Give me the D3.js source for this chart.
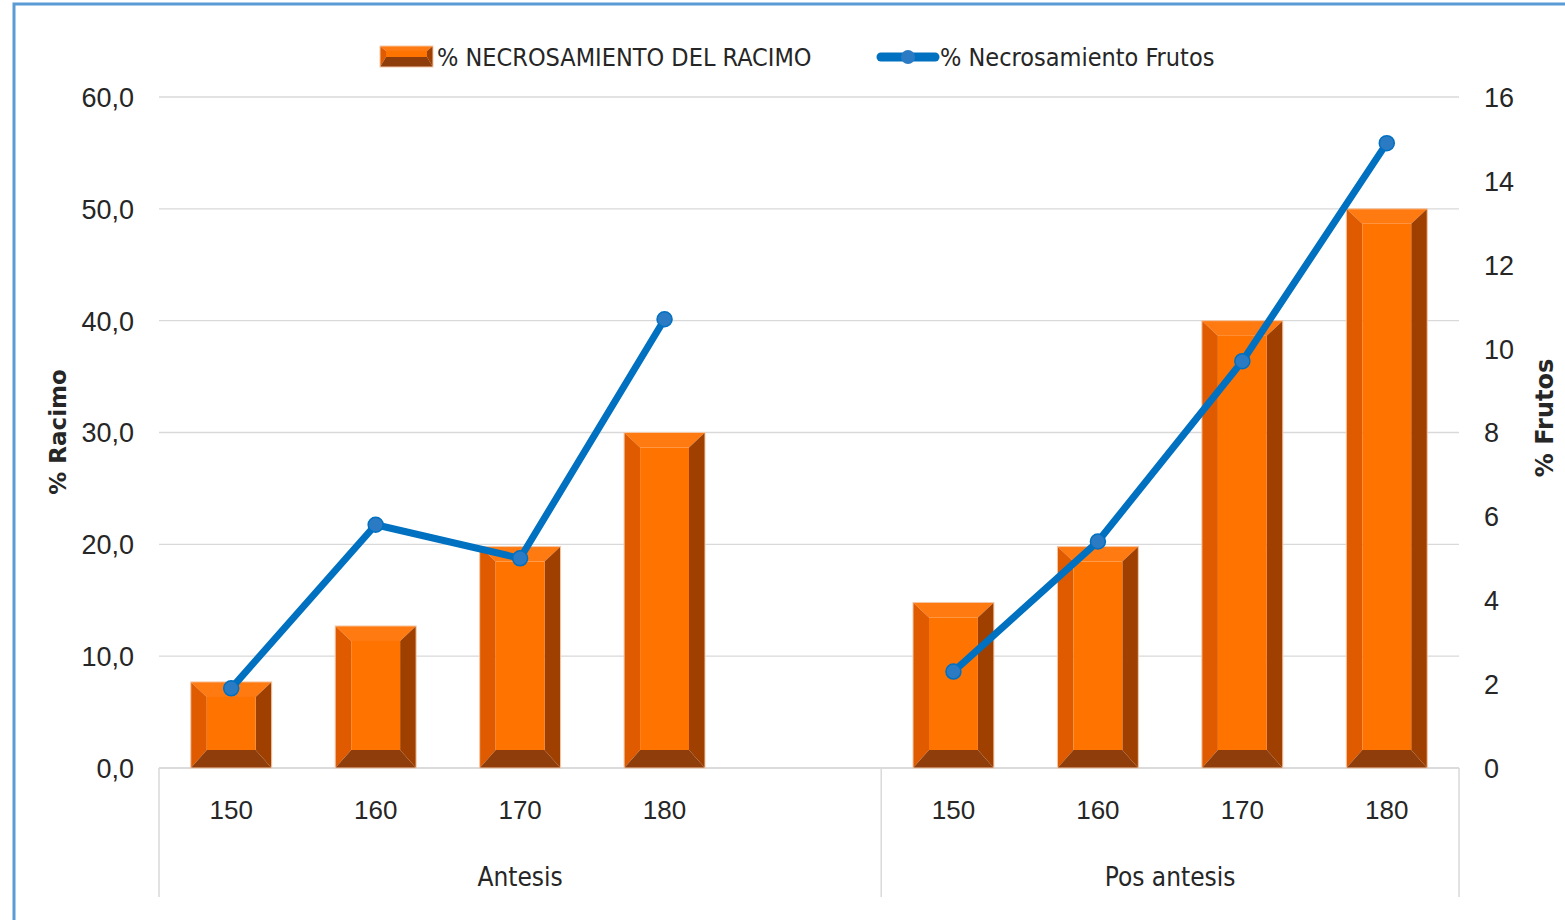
<!DOCTYPE html>
<html lang="es">
<head>
<meta charset="UTF-8">
<title>Necrosamiento</title>
<script src="https://d3js.org/d3.v7.min.js"></script>
<style>
    body { margin: 0; background: #fff; }
    svg { display: block; font-family: "Liberation Sans Narrow", "DejaVu Sans Condensed", sans-serif; }
    .tick text { fill: #262626; }
</style>
</head>
<body>
<svg id="chart" width="1565" height="920"></svg>
<script>
    // data
    const groups = ["Antesis", "Pos antesis"]
    const doses = ["150", "160", "170", "180"]
    const racimo = {
        "Antesis":     [7.7, 12.7, 19.8, 30.0],
        "Pos antesis": [14.8, 19.8, 40.0, 50.0]
    }
    const frutos = {
        "Antesis":     [1.9, 5.8, 5.0, 10.7],
        "Pos antesis": [2.3, 5.4, 9.7, 14.9]
    }
    const leftTicks = [0, 10, 20, 30, 40, 50, 60]
    const rightTicks = [0, 2, 4, 6, 8, 10, 12, 14, 16]
    const seriesNames = ["% NECROSAMIENTO DEL RACIMO", "% Necrosamiento Frutos"]

    // slots: Antesis has an empty fifth slot, as in the original sheet
    const slots = []
    groups.forEach((g, gi) => {
        doses.forEach(d => slots.push(g + "|" + d))
        if (gi === 0) slots.push(g + "|")
    })

    const svg = d3.select("#chart")
    const plot = {left: 159, right: 1459, top: 97, bottom: 768}

    const x = d3.scaleBand().domain(slots).range([plot.left, plot.right]).paddingInner(0.44).paddingOuter(0.22)
    const slotW = (plot.right - plot.left) / slots.length
    const yL = d3.scaleLinear().domain([0, 60]).range([plot.bottom, plot.top])
    const yR = d3.scaleLinear().domain([0, 16]).range([plot.bottom, plot.top])
    const fmt = v => d3.format(".1f")(v).replace(".", ",")

    // outer frame
    svg.append("rect").attr("x", 14).attr("y", 4).attr("width", 1600).attr("height", 960)
        .attr("fill", "none").attr("stroke", "#5B9BD5").attr("stroke-width", 3)

    // gridlines
    svg.append("g").selectAll("line").data(leftTicks).join("line")
        .attr("x1", plot.left).attr("x2", plot.right)
        .attr("y1", d => yL(d)).attr("y2", d => yL(d))
        .attr("stroke", "#D9D9D9").attr("stroke-width", 1.3)

    // left axis
    const axL = svg.append("g").attr("transform", `translate(${plot.left - 22},0)`)
        .call(d3.axisLeft(yL).tickValues(leftTicks).tickFormat(fmt).tickSize(0))
    axL.select(".domain").remove()
    axL.selectAll("text").attr("font-size", 27).attr("dy", "0.35em")

    // right axis
    const axR = svg.append("g").attr("transform", `translate(${plot.right + 22},0)`)
        .call(d3.axisRight(yR).tickValues(rightTicks).tickSize(0))
    axR.select(".domain").remove()
    axR.selectAll("text").attr("font-size", 27).attr("dy", "0.35em")

    // axis titles
    svg.append("text").attr("transform", "translate(66,432) rotate(-90)")
        .attr("text-anchor", "middle").attr("font-family", "DejaVu Sans, sans-serif")
        .attr("font-weight", "bold").attr("font-size", 23).attr("fill", "#262626").text("% Racimo")
    svg.append("text").attr("transform", "translate(1553,418) rotate(-90)")
        .attr("text-anchor", "middle").attr("font-family", "DejaVu Sans, sans-serif")
        .attr("font-weight", "bold").attr("font-size", 24).attr("fill", "#262626").text("% Frutos")

    // category axis: baseline, separators, labels
    svg.append("line").attr("x1", plot.left).attr("x2", plot.right)
        .attr("y1", plot.bottom).attr("y2", plot.bottom).attr("stroke", "#D9D9D9").attr("stroke-width", 1.5)
    const seps = [plot.left, plot.left + slotW * 5, plot.right]
    svg.append("g").selectAll("line").data(seps).join("line")
        .attr("x1", d => d).attr("x2", d => d).attr("y1", plot.bottom).attr("y2", 897)
        .attr("stroke", "#D9D9D9").attr("stroke-width", 1.5)

    const axB = svg.append("g").attr("transform", `translate(0,${plot.bottom + 30})`)
        .call(d3.axisBottom(x).tickFormat(d => d.split("|")[1]).tickSize(0))
    axB.select(".domain").remove()
    axB.selectAll("text").attr("font-size", 26).attr("dy", "0.71em")

    const groupSpan = [[plot.left, seps[1]], [seps[1], plot.right]]
    svg.append("g").selectAll("text").data(groups).join("text")
        .attr("x", (d, i) => (groupSpan[i][0] + groupSpan[i][1]) / 2)
        .attr("y", 886).attr("text-anchor", "middle").attr("font-size", 26).attr("fill", "#262626")
        .text(d => d)

    // bevelled bars
    const col = {face: "#FF7300", top: "#FF7A10", left: "#E05B00", right: "#A04000", bottom: "#8F3D0B"}
    function bevel(g, x0, x1, y0, y1, b, bt, bb) {
        const h = y1 - y0
        if (bt + bb > h) { bt = h * 0.45; bb = h * 0.55 }
        const poly = (pts, c) => g.append("polygon").attr("points", pts.map(p => p.join(",")).join(" ")).attr("fill", c)
        poly([[x0, y0], [x1, y0], [x1 - b, y0 + bt], [x0 + b, y0 + bt]], col.top)
        poly([[x0, y0], [x0 + b, y0 + bt], [x0 + b, y1 - bb], [x0, y1]], col.left)
        poly([[x1, y0], [x1 - b, y0 + bt], [x1 - b, y1 - bb], [x1, y1]], col.right)
        poly([[x0, y1], [x1, y1], [x1 - b, y1 - bb], [x0 + b, y1 - bb]], col.bottom)
        g.append("rect").attr("x", x0 + b).attr("y", y0 + bt).attr("width", x1 - x0 - 2 * b)
            .attr("height", Math.max(0, y1 - y0 - bt - bb)).attr("fill", col.face)
        g.append("rect").attr("x", x0).attr("y", y0).attr("width", x1 - x0).attr("height", h)
            .attr("fill", "none").attr("stroke", "#F4C7A6").attr("stroke-width", 1)
    }
    const barG = svg.append("g")
    groups.forEach(g => {
        racimo[g].forEach((v, i) => {
            const k = g + "|" + doses[i]
            bevel(barG.append("g"), x(k), x(k) + x.bandwidth(), yL(v), yL(0), 16, 15, 18)
        })
    })

    // line series, broken between the groups
    const lineCol = "#0070C0"
    const line = d3.line().x(d => x(d.k) + x.bandwidth() / 2).y(d => yR(d.v))
    groups.forEach(g => {
        const pts = frutos[g].map((v, i) => ({k: g + "|" + doses[i], v}))
        svg.append("path").datum(pts).attr("d", line).attr("fill", "none")
            .attr("stroke", lineCol).attr("stroke-width", 7).attr("stroke-linejoin", "round")
        svg.append("g").selectAll("circle").data(pts).join("circle")
            .attr("cx", d => x(d.k) + x.bandwidth() / 2).attr("cy", d => yR(d.v))
            .attr("r", 7.5).attr("fill", "#2A7BC4").attr("stroke", lineCol).attr("stroke-width", 1.5)
    })

    // legend
    const leg = svg.append("g")
    bevel(leg.append("g"), 380, 433, 46, 67, 6, 5, 10)
    leg.append("text").attr("x", 437).attr("y", 66).attr("font-size", 25).attr("fill", "#262626").text(seriesNames[0])
    leg.append("line").attr("x1", 881).attr("x2", 935).attr("y1", 57).attr("y2", 57)
        .attr("stroke", lineCol).attr("stroke-width", 9).attr("stroke-linecap", "round")
    leg.append("circle").attr("cx", 908).attr("cy", 57).attr("r", 7).attr("fill", "#2A7BC4")
    leg.append("text").attr("x", 940).attr("y", 66).attr("font-size", 25).attr("fill", "#262626").text(seriesNames[1])
</script>
</body>
</html>
